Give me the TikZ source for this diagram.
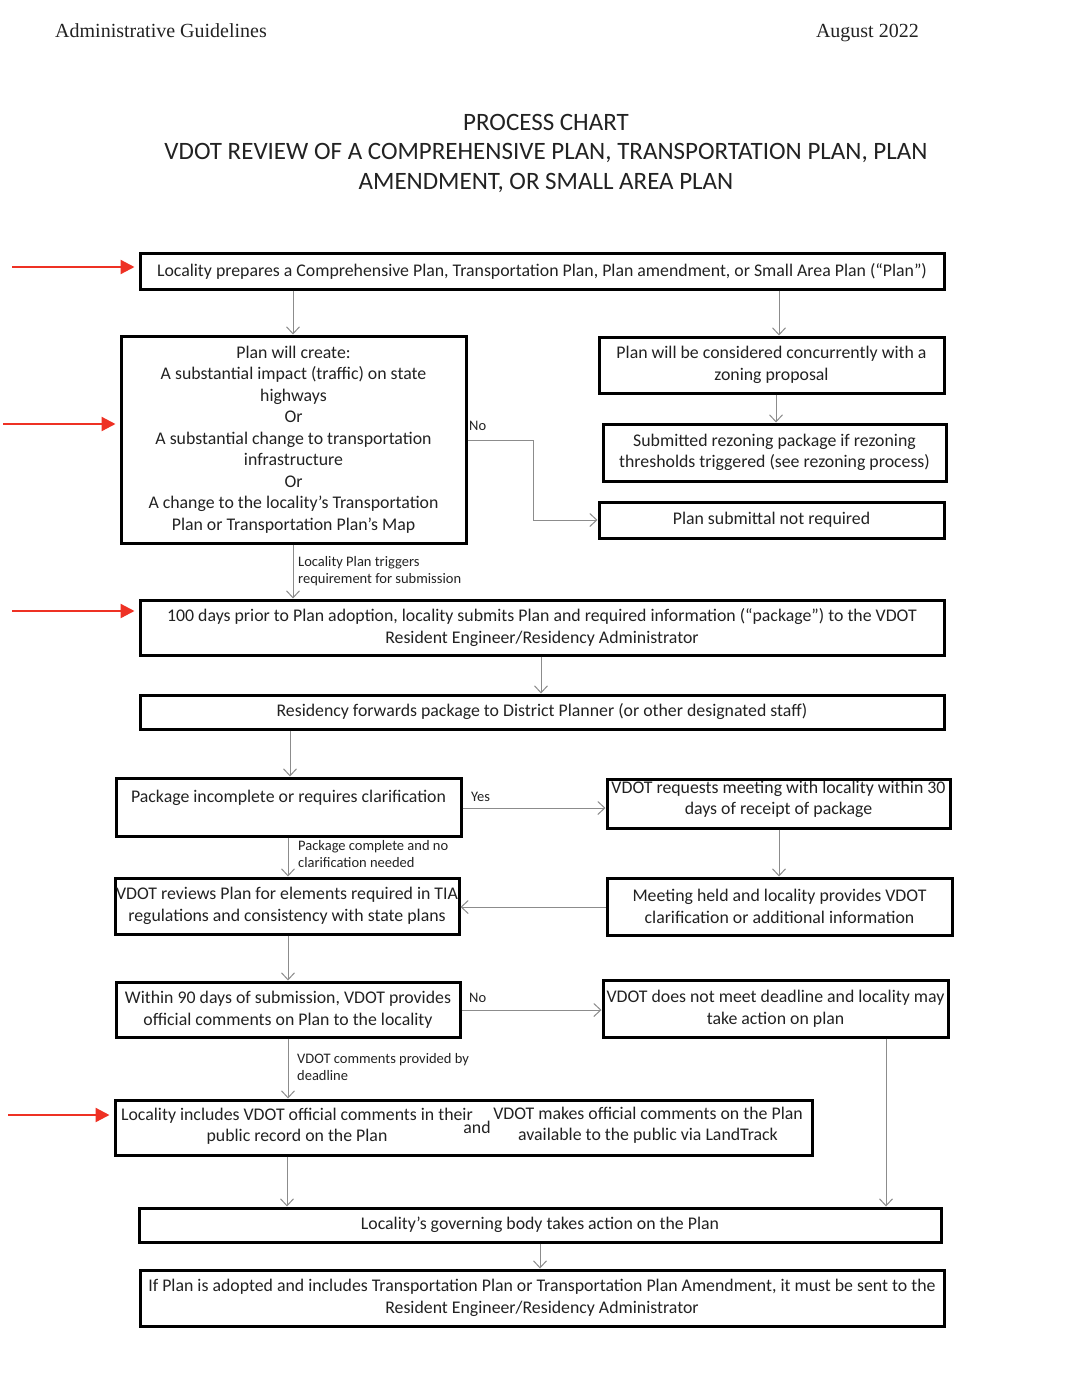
\documentclass[tikz,border=0pt]{standalone}
\usepackage{fontspec}
\setmainfont{Carlito}
\newfontfamily\timesf{Liberation Serif}
\usetikzlibrary{arrows.meta,positioning}
\definecolor{redarr}{HTML}{EE3124}
\definecolor{conncol}{HTML}{8C8C8C}
\definecolor{txt}{HTML}{222222}
\begin{document}
\begin{tikzpicture}[x=1pt,y=-1pt,
  box/.style={draw=black,line width=3pt,fill=white,align=center,inner sep=1pt,
    text=txt,font=\fontsize{17.8}{21.5}\selectfont},
  conn/.style={draw=conncol,line width=1pt,-{Straight Barb[length=7pt,width=13pt,line width=1pt]}},
  plain/.style={draw=conncol,line width=1pt},
  redarrow/.style={draw=redarr,line width=2.3pt,shorten >=4pt,-{Triangle[length=14pt,width=14pt]}},
  lbl/.style={text=txt,font=\fontsize{14.5}{17}\selectfont,align=left,inner sep=0pt,anchor=west},
  yn/.style={text=txt,font=\fontsize{14.5}{15}\selectfont,inner sep=0pt,anchor=west}]
\useasboundingbox[fill=white] (0,0) rectangle (1066,1374);

% header and title
\node[anchor=base west,inner sep=0pt,text=txt,font=\timesf\fontsize{20}{22}\selectfont] (hl) at (55,37) {Administrative Guidelines};
\node[anchor=base east,inner sep=0pt,text=txt,font=\timesf\fontsize{20}{22}\selectfont] (hr) at (919,37) {August 2022};
\node[align=center,inner sep=0pt,text=txt,font=\fontsize{25}{29.5}\selectfont] (title) at (546,153)
  {PROCESS CHART\\VDOT REVIEW OF A COMPREHENSIVE PLAN, TRANSPORTATION PLAN, PLAN\\AMENDMENT, OR SMALL AREA PLAN};

% boxes
\node[box,minimum width=804,minimum height=36] (b1) at (542,271)
  {Locality prepares a Comprehensive Plan, Transportation Plan, Plan amendment, or Small Area Plan (“Plan”)};
\node[box,minimum width=345,minimum height=207] (b2) at (293.5,439.5)
  {Plan will create:\\A substantial impact (traffic) on state\\highways\\Or\\A substantial change to transportation\\infrastructure\\Or\\A change to the\ locality’s Transportation\\Plan or Transportation Plan’s Map};
\node[box,minimum width=345,minimum height=56] (b3) at (771.5,365)
  {Plan will be considered concurrently with a\\zoning proposal};
\node[box,minimum width=343,minimum height=57] (b4) at (774.5,452.5)
  {Submitted\ rezoning package if rezoning\\thresholds triggered (see rezoning process)};
\node[box,minimum width=345,minimum height=36] (b5) at (771.5,520)
  {Plan submittal not required};
\node[box,minimum width=804,minimum height=55] (b6) at (542,627.5)
  {100 days prior to Plan adoption, locality submits Plan and required information (“package”) to the VDOT\\Resident Engineer/Residency Administrator};
\node[box,minimum width=804,minimum height=34] (b7) at (542,712)
  {Residency forwards package to District Planner (or other designated staff)};
\node[box,minimum width=345,minimum height=58] (b8) at (288.5,807)
  {Package incomplete or requires clarification\\\mbox{}};
\node[box,minimum width=343,minimum height=49] (b9) at (778.5,803.5)
  {VDOT requests meeting\ with locality within 30\\days of receipt of package\rule[-11pt]{0pt}{1pt}};
\node[box,minimum width=344,minimum height=56] (b10) at (287,906)
  {VDOT reviews Plan for elements\ required in TIA\\regulations and consistency with state plans};
\node[box,minimum width=345,minimum height=57] (b11) at (779.5,906.5)
  {Meeting held and locality provides VDOT\\clarification or additional information};
\node[box,minimum width=344,minimum height=55] (b12) at (288,1009.5)
  {Within 90 days of submission, VDOT provides\\official comments on Plan to the\ locality};
\node[box,minimum width=345,minimum height=57] (b13) at (775.5,1008.5)
  {VDOT does not meet\ deadline and locality may\\take action on plan};
\node[box,minimum width=697,minimum height=55] (b14) at (463.5,1127.5) {};
\node[text=txt,font=\fontsize{17.8}{21.5}\selectfont,align=center,inner sep=0pt] (t14a) at (297,1126)
  {Locality includes VDOT official comments in their\\public record on the Plan};
\node[text=txt,font=\fontsize{17.8}{15}\selectfont,inner sep=0pt] (t14and) at (477,1127) {and};
\node[text=txt,font=\fontsize{17.8}{21.5}\selectfont,align=center,inner sep=0pt] (t14b) at (648,1125)
  {VDOT makes official comments on the\ Plan\\available to the\ public via LandTrack};
\node[box,minimum width=802,minimum height=34] (b15) at (540,1225)
  {Locality’s governing body takes action on the\ Plan};
\node[box,minimum width=804,minimum height=56] (b16) at (542,1298)
  {If Plan is adopted and includes Transportation Plan or Transportation Plan Amendment,\ it must be sent to the\\Resident Engineer/Residency Administrator};

% x positions for vertical connectors
\coordinate (x293) at (293,0);
\coordinate (x779) at (779,0);
\coordinate (x776) at (776,0);
\coordinate (x541) at (541,0);
\coordinate (x290) at (290,0);
\coordinate (x288) at (288,0);
\coordinate (x287) at (287,0);
\coordinate (x886) at (886,0);
\coordinate (x540) at (540,0);
\coordinate (no1) at (533,440);
\coordinate (yyes) at (0,808);
\coordinate (ymeet) at (0,907);
\coordinate (yno2) at (0,1010);

\draw[conn] (b1.south -| x293) -- (b2.north -| x293);
\draw[conn] (b1.south -| x779) -- (b3.north -| x779);
\draw[conn] (b3.south -| x776) -- (b4.north -| x776);
\draw[plain] (b2.east |- no1) -- (no1);
\draw[conn] (no1) |- (b5.west);
\node[yn] (lno1) at (469,426) {No};
\draw[conn] (b2.south -| x293) -- (b6.north -| x293);
\node[lbl] (l1) at (298,571) {Locality Plan triggers\\requirement for submission};
\draw[conn] (b6.south -| x541) -- (b7.north -| x541);
\draw[conn] (b7.south -| x290) -- (b8.north -| x290);
\draw[conn] (b8.east |- yyes) -- (b9.west |- yyes);
\node[yn] (lyes) at (471,797) {Yes};
\draw[conn] (b9.south -| x779) -- (b11.north -| x779);
\draw[conn] (b8.south -| x288) -- (b10.north -| x288);
\node[lbl] (l2) at (298,854.5) {Package complete and no\\clarification needed};
\draw[conn] (b11.west |- ymeet) -- (b10.east |- ymeet);
\draw[conn] (b10.south -| x288) -- (b12.north -| x288);
\draw[conn] (b12.east |- yno2) -- (b13.west |- yno2);
\node[yn] (lno2) at (469,998) {No};
\draw[conn] (b12.south -| x288) -- (b14.north -| x288);
\node[lbl] (l3) at (297,1067.5) {VDOT comments provided by\\deadline};
\draw[conn] (b13.south -| x886) -- (b15.north -| x886);
\draw[conn] (b14.south -| x287) -- (b15.north -| x287);
\draw[conn] (b15.south -| x540) -- (b16.north -| x540);

% red arrows
\coordinate (r1) at (12,267);
\coordinate (r2) at (3,424);
\coordinate (r3) at (12,611);
\coordinate (r4) at (8,1115);
\draw[redarrow] (r1) -- (b1.west |- r1);
\draw[redarrow] (r2) -- (b2.west |- r2);
\draw[redarrow] (r3) -- (b6.west |- r3);
\draw[redarrow] (r4) -- (b14.west |- r4);
\end{tikzpicture}
\end{document}
